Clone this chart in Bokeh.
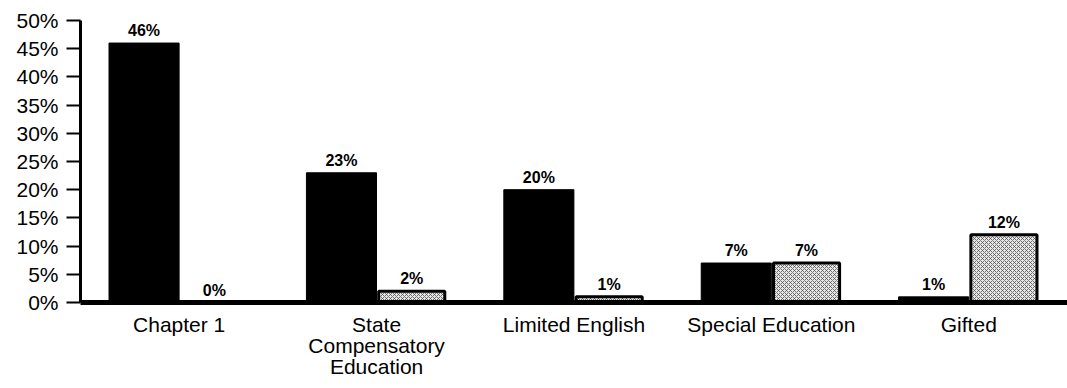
from bokeh.plotting import figure
from bokeh.models import ColumnDataSource, FactorRange, Range1d, FixedTicker
from bokeh.transform import dodge
from bokeh.core.properties import value
from bokeh.embed import file_html
from bokeh.resources import INLINE

categories = ["Chapter 1", "State\nCompensatory\nEducation", "Limited English", "Special Education", "Gifted"]
series_a = [46, 23, 20, 7, 1]
series_b = [0, 2, 1, 7, 12]
y_ticks = [0, 5, 10, 15, 20, 25, 30, 35, 40, 45, 50]

src = ColumnDataSource(dict(
    cat=categories, a=series_a, b=series_b,
    la=[f"{v}%" for v in series_a], lb=[f"{v}%" for v in series_b],
))

p = figure(x_range=FactorRange(*categories, range_padding=0), y_range=Range1d(0, 50),
           width=1067, height=388, output_backend="svg", toolbar_location=None,
           min_border_left=80, min_border_right=0, min_border_top=20, min_border_bottom=86)
p.outline_line_color = None
p.grid.grid_line_color = None
p.background_fill_color = "white"

FONT = "Liberation Sans"

p.vbar(x=dodge("cat", -0.178, range=p.x_range), top="a", width=0.355, source=src,
       fill_color="black", line_color="black", line_width=1)
p.vbar(x=dodge("cat", 0.178, range=p.x_range), top="b", width=0.335, source=src,
       fill_color="#e6e6e6", line_color="black", line_width=3,
       hatch_pattern="x", hatch_color="#555555", hatch_scale=4, hatch_weight=0.8)

for col, lab, off in (("a", "la", -0.178), ("b", "lb", 0.178)):
    p.text(x=dodge("cat", off, range=p.x_range), y=col, text=lab, source=src,
           text_align="center", text_baseline="bottom", y_offset=-4,
           text_font=value(FONT), text_font_size="16px", text_font_style="bold",
           text_color="black")

ya = p.yaxis[0]
ya.ticker = FixedTicker(ticks=y_ticks)
ya.major_label_overrides = {t: f"{t}%" for t in y_ticks}
ya.axis_line_width = 3
ya.major_tick_out = 14
ya.major_tick_in = 0
ya.major_tick_line_width = 2
ya.minor_tick_line_color = None
ya.major_label_text_font = FONT
ya.major_label_text_font_size = "21px"
ya.major_label_text_color = "black"
ya.major_label_standoff = 8

xa = p.xaxis[0]
xa.axis_line_width = 5
xa.major_tick_line_color = None
xa.minor_tick_line_color = None
xa.major_label_text_font = FONT
xa.major_label_text_font_size = "21px"
xa.major_label_text_color = "black"
xa.major_label_text_line_height = 0.93
xa.major_label_standoff = 4
xa.major_label_orientation = "horizontal"

open("out.html", "w").write(file_html(p, INLINE))
